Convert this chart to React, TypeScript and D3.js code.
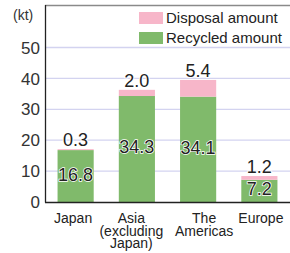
import React from "react";
import * as d3 from "d3";

const categories = ["Japan", "Asia\n(excluding\nJapan)", "The\nAmericas", "Europe"];
const recycled = [16.8, 34.3, 34.1, 7.2];
const disposal = [0.3, 2.0, 5.4, 1.2];
const yTicks = [0, 10, 20, 30, 40, 50];
const seriesNames = ["Disposal amount", "Recycled amount"];

const W = 290, H = 253;
const PINK = "#f7b6c9";
const GREEN = "#80ba6b";
const FONT = "'Liberation Sans', Arial, sans-serif";
const labelNudge = [-2.5, -5.5, 6, 1.5];

export default function App() {
  const x = d3.scaleBand<number>().domain(d3.range(categories.length)).range([45, 290]).paddingInner(0.41).paddingOuter(0.205);
  const y = d3.scaleLinear().domain([0, 50]).range([202, 47.5]);
  const bw = x.bandwidth();
  return (
    <svg width={W} height={H} style={{ position: "absolute", left: 0, top: 0, background: "#fff" }} fontFamily={FONT}>
      {yTicks.filter(t => t > 0).map(t => (
        <line key={t} x1={46} x2={290} y1={y(t)} y2={y(t)} stroke="#d3d3f0" strokeWidth={1.3} />
      ))}
      <line x1={45} x2={290} y1={5.5} y2={5.5} stroke="#8a8a8a" strokeWidth={1.6} />
      {yTicks.map(t => (
        <text key={t} x={40} y={y(t)} dy="0.36em" textAnchor="end" fontSize={17} fill="#333">{t}</text>
      ))}
      <text x={13} y={20} fontSize={14} fill="#333">(kt)</text>
      {categories.map((c, i) => {
        const x0 = x(i)!;
        const cx = x0 + bw / 2;
        const top = recycled[i] + disposal[i];
        return (
          <g key={i}>
            <rect x={x0} width={bw} y={y(recycled[i])} height={y(0) - y(recycled[i])} fill={GREEN} />
            <rect x={x0} width={bw} y={y(top)} height={y(recycled[i]) - y(top)} fill={PINK} />
            <text x={cx} y={y(top) - 3} textAnchor="middle" fontSize={18} fill="#222" stroke="#fff" strokeWidth={2} paintOrder="stroke">{disposal[i].toFixed(1)}</text>
            <text x={cx} y={y(recycled[i] / 2) - 2} dy="0.36em" textAnchor="middle" fontSize={18} fill="#222" stroke="#fff" strokeWidth={1.5} paintOrder="stroke">{recycled[i].toFixed(1)}</text>
            {c.split("\n").map((ln, k) => (
              <text key={k} x={cx + labelNudge[i]} y={223 + k * 12.5} textAnchor="middle" fontSize={14} fill="#222">{ln}</text>
            ))}
          </g>
        );
      })}
      <line x1={45.5} x2={45.5} y1={5} y2={202.5} stroke="#222" strokeWidth={1.3} />
      <line x1={45} x2={290} y1={202.5} y2={202.5} stroke="#222" strokeWidth={1.3} />
      {seriesNames.map((s, i) => (
        <g key={s}>
          <rect x={139} y={12 + i * 20} width={24} height={12} fill={i === 0 ? PINK : GREEN} />
          <text x={166} y={18 + i * 20} dy="0.36em" fontSize={15} fill="#222">{s}</text>
        </g>
      ))}
    </svg>
  );
}
